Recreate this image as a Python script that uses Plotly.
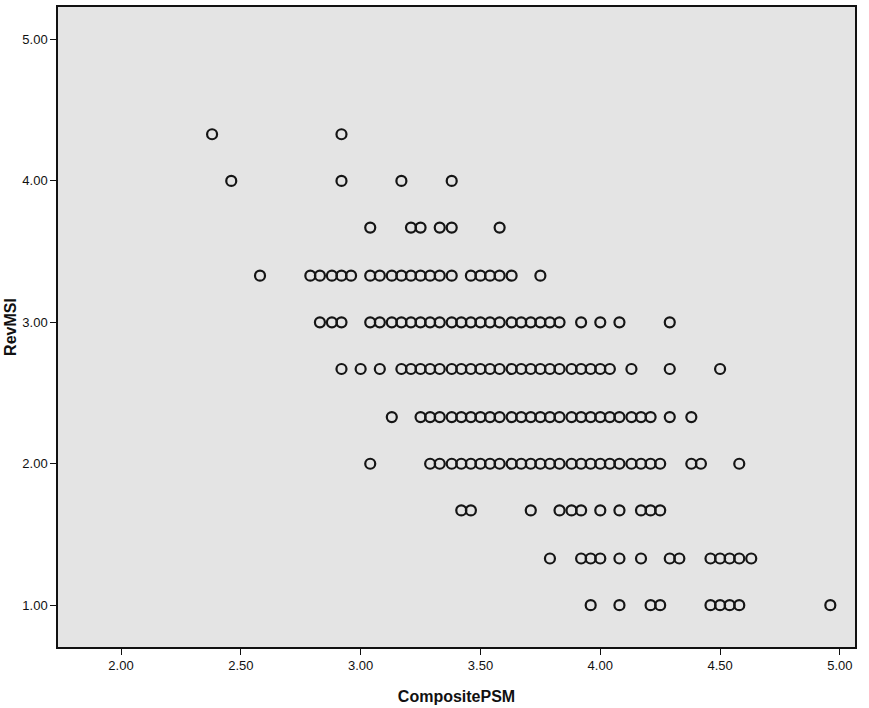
import plotly.graph_objects as go

# RevMSI levels and the CompositePSM values observed at each level
row_100 = [3.96, 4.08, 4.21, 4.25, 4.46, 4.50, 4.54, 4.58, 4.96]
row_133 = [3.79, 3.92, 3.96, 4.00, 4.08, 4.17, 4.29, 4.33, 4.46, 4.50, 4.54, 4.58, 4.63]
row_167 = [3.42, 3.46, 3.71, 3.83, 3.88, 3.92, 4.00, 4.08, 4.17, 4.21, 4.25]
row_200 = [3.04, 3.29, 3.33, 3.38, 3.42, 3.46, 3.50, 3.54, 3.58, 3.63, 3.67, 3.71, 3.75,
           3.79, 3.83, 3.88, 3.92, 3.96, 4.00, 4.04, 4.08, 4.13, 4.17, 4.21, 4.25,
           4.38, 4.42, 4.58]
row_233 = [3.13, 3.25, 3.29, 3.33, 3.38, 3.42, 3.46, 3.50, 3.54, 3.58, 3.63, 3.67, 3.71,
           3.75, 3.79, 3.83, 3.88, 3.92, 3.96, 4.00, 4.04, 4.08, 4.13, 4.17, 4.21,
           4.29, 4.38]
row_267 = [2.92, 3.00, 3.08, 3.17, 3.21, 3.25, 3.29, 3.33, 3.38, 3.42, 3.46, 3.50, 3.54,
           3.58, 3.63, 3.67, 3.71, 3.75, 3.79, 3.83, 3.88, 3.92, 3.96, 4.00, 4.04,
           4.13, 4.29, 4.50]
row_300 = [2.83, 2.88, 2.92, 3.04, 3.08, 3.13, 3.17, 3.21, 3.25, 3.29, 3.33, 3.38, 3.42,
           3.46, 3.50, 3.54, 3.58, 3.63, 3.67, 3.71, 3.75, 3.79, 3.83,
           3.92, 4.00, 4.08, 4.29]
row_333 = [2.58, 2.79, 2.83, 2.88, 2.92, 2.96, 3.04, 3.08, 3.13, 3.17, 3.21, 3.25, 3.29,
           3.33, 3.38, 3.46, 3.50, 3.54, 3.58, 3.63, 3.75]
row_367 = [3.04, 3.21, 3.25, 3.33, 3.38, 3.58]
row_400 = [2.46, 2.92, 3.17, 3.38]
row_433 = [2.38, 2.92]

msi_levels = [1.00, 1.33, 1.67, 2.00, 2.33, 2.67, 3.00, 3.33, 3.67, 4.00, 4.33]
psm_rows = [row_100, row_133, row_167, row_200, row_233, row_267, row_300,
            row_333, row_367, row_400, row_433]

x_ticks = [2.00, 2.50, 3.00, 3.50, 4.00, 4.50, 5.00]
y_ticks = [1.00, 2.00, 3.00, 4.00, 5.00]

psm = []
msi = []
for lvl, row in zip(msi_levels, psm_rows):
    psm.extend(row)
    msi.extend([lvl] * len(row))

fig = go.Figure(go.Scatter(
    x=psm, y=msi, mode="markers",
    marker=dict(symbol="circle-open", size=10, color="#151515",
                line=dict(width=2.2, color="#151515")),
    hoverinfo="x+y",
))

axis_font = dict(family="Liberation Sans, Arial, sans-serif", size=13, color="#111")
title_font = dict(family="Liberation Sans, Arial, sans-serif", size=16, color="#111")

fig.update_layout(
    width=869, height=708,
    margin=dict(l=58, r=14, t=5, b=60),
    paper_bgcolor="white",
    plot_bgcolor="#e4e4e4",
    showlegend=False,
    xaxis=dict(
        range=[1.737, 5.063], tickvals=x_ticks, ticktext=[f"{v:.2f}" for v in x_ticks],
        ticks="outside", ticklen=6, tickwidth=1, tickcolor="#111",
        showgrid=False, zeroline=False, showline=True, linecolor="#111", linewidth=1.5,
        mirror=True, tickfont=axis_font,
        title=dict(text="<b>CompositePSM</b>", font=title_font, standoff=18),
    ),
    yaxis=dict(
        range=[0.704, 5.23], tickvals=y_ticks, ticktext=[f"{v:.2f}" for v in y_ticks],
        ticks="outside", ticklen=6, tickwidth=1, tickcolor="#111",
        showgrid=False, zeroline=False, showline=True, linecolor="#111", linewidth=1.5,
        mirror=True, tickfont=axis_font,
        title=dict(text="<b>RevMSI</b>", font=title_font, standoff=2),
    ),
)

fig.write_html("out.html", config={"displayModeBar": False},
               post_script="document.body.style.margin='0px';")
